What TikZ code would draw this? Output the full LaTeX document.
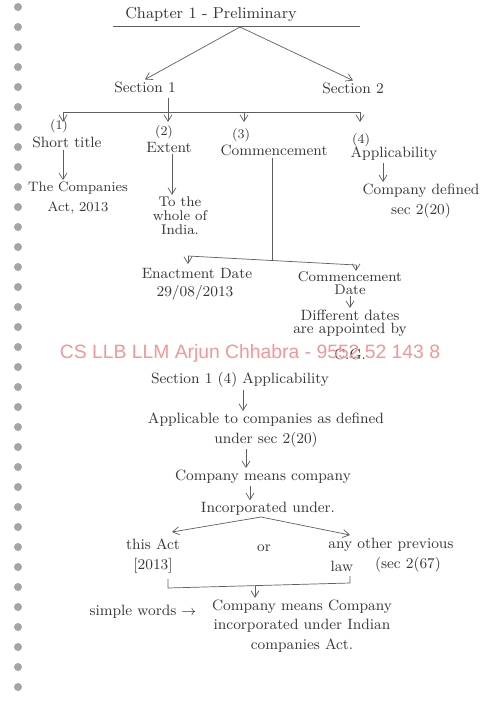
\documentclass[tikz,border=0pt]{standalone}
\usepackage{fontspec}
\usepackage{xcolor}
\usetikzlibrary{arrows.meta,positioning,calc}
\newfontfamily\wmfont{Liberation Sans}
\definecolor{pencil}{RGB}{55,55,55}
\definecolor{holegray}{RGB}{165,165,165}
\definecolor{wmred}{RGB}{246,150,150}
\tikzset{
	note/.style={text=pencil, align=center, inner sep=1pt, font=\fontsize{8.5}{11}\selectfont},
	small/.style={note, font=\fontsize{7.5}{9}\selectfont},
	head/.style={note, font=\fontsize{8.5}{11}\selectfont},
	flow/.style={-{Straight Barb[length=1.3mm,width=1.6mm]}, draw=pencil!80, thin},
	pen/.style={draw=pencil!80, thin},
	dbl/.style={draw=pencil!70, double, double distance=0.6pt, thin},
	wm/.style={text=wmred, inner sep=0pt, font=\wmfont\fontsize{11}{13}\selectfont}
}
\begin{document}
\begin{tikzpicture}[x=0.02cm, y=-0.02cm]
	\useasboundingbox[fill=white] (0,0) rectangle (500,707);
	% binder holes
	\foreach \i in {0,...,34} \fill[holegray] (18, 7+\i*20) circle (4);
	% chapter heading
	\node[head, font=\fontsize{9}{11}\selectfont] (chap) at (211,15) {Chapter 1 - Preliminary};
	\draw[pen] (113,26) -- (360,26);
	\coordinate (chapb) at (240,27);
	\node[head] (sec1) at (145,87) {Section 1};
	\node[head] (sec2) at (353,88) {Section 2};
	\draw[dbl] (115,97) -- (172,97);
	\draw[dbl] (327,98) -- (377,98);
	\draw[flow] (chapb) -- (sec1.north);
	\draw[flow] (chapb) -- (sec2.north);
	% sub-clauses of section 1
	\coordinate (s1b) at (168,98);
	\coordinate (bar) at (168,112);
	\draw[pen] (s1b) -- (bar);
	\draw[pen] (63,112) -- (360,112);
	\node[small] (n1) at (59,126) {(1)};
	\node[note] (t1) at (67,142) {Short title};
	\node[small] (n2) at (164,132) {(2)};
	\node[note] (t2) at (169,147) {Extent};
	\node[small] (n3) at (241,135) {(3)};
	\node[note] (t3) at (274,150) {Commencement};
	\node[small] (n4) at (361,140) {(4)};
	\node[note] (t4) at (394,154) {Applicability};
	\foreach \x/\n in {63/n1,168/n2,244/n3,360/n4}
		\draw[flow] (\x,112) -- (\x,122);
	\node[note, font=\fontsize{7.8}{11}\selectfont] (a1) at (78,198) {The Companies\\Act, 2013};
	\node[note, font=\fontsize{8}{8}\selectfont] (a2) at (180,216) {To the\\whole of\\India.};
	\node[note] (a4) at (421,201) {Company defined\\sec 2(20)};
	\draw[flow] (t1.south -| 63,0) -- (a1.north -| 63,0);
	\draw[flow] (t2.south -| 172,0) -- (a2.north -| 172,0);
	\draw[flow] (t4.south -| 383,0) -- (a4.north -| 383,0);
	% commencement
	\coordinate (cj) at (272,260);
	\draw[pen] (t3.south -| cj) -- (cj);
	\draw[pen] (188,256) -- (356,265);
	\node[note] (e1) at (197,273) {Enactment Date};
	\node[note] (e2) at (195,293) {29/08/2013};
	\node[note, font=\fontsize{8}{7}\selectfont] (c1) at (350,283) {Commencement\\Date};
	\draw[flow] (188,256) -- (188,264);
	\draw[flow] (356,265) -- (356,271);
	\node[note, font=\fontsize{8.5}{7.5}\selectfont, anchor=north] (d1) at (350,308) {Different dates\\are appointed by\\[6pt]C.G.};
	\draw[flow] (c1.south) -- (d1.north);
	% watermark
	\node[wm] (mark) at (250,353) {CS LLB LLM Arjun Chhabra - 9552 52 143 8};
	% section 1(4)
	\node[head] (appl) at (240,380) {Section 1 (4) Applicability};
	\draw[dbl] (168,392) -- (320,392);
	\node[note] (p1) at (266,430) {Applicable to companies as defined\\under sec 2(20)};
	\node[note] (p2) at (263,477) {Company means company};
	\node[note] (p3) at (268,509) {Incorporated under.};
	\draw[flow] (appl.south -| 243,0) -- (p1.north -| 243,0);
	\draw[flow] (p1.south -| 246,0) -- (p2.north -| 246,0);
	\draw[flow] (p2.south -| 250,0) -- (p3.north -| 250,0);
	\coordinate (p3b) at (261,517);
	\node[note] (q1) at (153,556) {this Act\\{[2013]}};
	\node[note] (q2) at (264,548) {or};
	\node[note] (q3) at (391,545) {any other previous};
	\node[note] (q4) at (342,566) {law};
	\node[note] (q5) at (408,565) {(sec 2(67)};
	\draw[flow] (p3b) -- (172,532);
	\draw[flow] (p3b) -- (350,535);
	% bracket
	\coordinate (brm) at (255,586);
	\draw[pen] (168,579) -- (168,588) -- (350,583) -- (350,576);
	\node[note] (r0) at (143,612) {simple words $\rightarrow$};
	\node[note] (r1) at (302,626) {Company means Company\\incorporated under Indian\\companies Act.};
	\draw[flow] (brm) -- (brm |- r1.north);
\end{tikzpicture}
\end{document}
